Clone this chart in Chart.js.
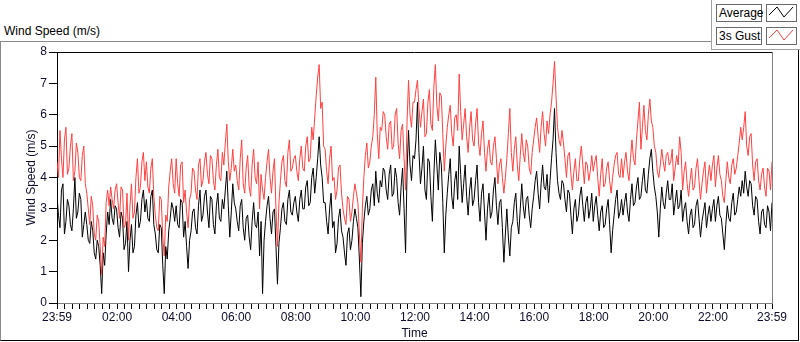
<!DOCTYPE html>
<html>
<head>
<meta charset="utf-8">
<title>Wind Speed (m/s)</title>
<script src="https://cdn.jsdelivr.net/npm/chart.js@4.4.1/dist/chart.umd.min.js"></script>
<style>
  html, body { margin: 0; padding: 0; background: #fff; }
  body { width: 800px; height: 342px; position: relative; overflow: hidden;
         font-family: "Liberation Sans", Arial, sans-serif; color: #000; }
  #title { position: absolute; left: 4px; top: 24px; font-size: 12px; white-space: nowrap; }
  #frame { position: absolute; left: 0; top: 41px; width: 797px; height: 298px;
           border-left: 1px solid #8a8a8a; border-top: 1px solid #8a8a8a;
           border-right: 1px solid #000; border-bottom: 1px solid #000; }
  #legendPanel { position: absolute; left: 711px; top: 0; width: 89px; height: 50px; background: #fff;
                 border-left: 1px solid #a0a0a0; border-bottom: 1px solid #a0a0a0; box-sizing: border-box; }
  .lgText { position: absolute; left: 716px; width: 46px; height: 18px; box-sizing: border-box;
            border: 1px solid #6a6a6a; font-size: 12px; line-height: 16px; padding-left: 2px; background: #fff; }
  .lgIcon { position: absolute; left: 766px; width: 31px; height: 18px; box-sizing: border-box;
            border: 1px solid #6a6a6a; background: #fff; }
  .lgIcon svg { display: block; }
  #wrap { position: absolute; left: 0; top: 41px; width: 800px; height: 300px; }
</style>
</head>
<body>
<div id="frame"></div>
<div id="title">Wind Speed (m/s)</div>
<div id="legendPanel"></div>
<div class="lgText" style="top:4px">Average</div>
<div class="lgIcon" style="top:4px"><svg width="29" height="16"><polyline points="2,10 10,2 17,12 26,2" fill="none" stroke="#000" stroke-width="1"/></svg></div>
<div class="lgText" style="top:27px">3s Gust</div>
<div class="lgIcon" style="top:27px"><svg width="29" height="16"><polyline points="2,10 10,2 17,12 26,2" fill="none" stroke="#ff4040" stroke-width="1"/></svg></div>
<div id="wrap"><canvas id="windChart" width="800" height="300"></canvas></div>
<script>
// samples every 3 minutes from 23:59 to 23:59, one row per hour
const SAMPLE_MIN = 3;

const avgSpeed = [
  3.4, 2.8, 2.4, 3.6, 3.8, 2.2, 2.6, 3.3, 3.1, 2.5, 2.3, 3.0, 4.0, 2.7, 2.9, 3.5, 3.3, 2.1, 2.5, 2.9,
  2.5, 2.0, 1.9, 2.6, 2.3, 1.6, 1.4, 2.0, 1.8, 1.2, 0.3, 1.6, 1.2, 2.2, 2.9, 2.5, 3.3, 2.7, 2.5, 3.1,
  3.0, 2.4, 2.1, 2.9, 2.7, 1.7, 1.9, 2.6, 1.0, 2.0, 2.5, 1.6, 1.8, 2.8, 3.2, 2.4, 2.6, 3.3, 3.6, 2.9,
  3.3, 2.7, 2.6, 3.4, 3.6, 2.5, 2.2, 1.7, 1.6, 2.5, 2.4, 1.2, 0.3, 1.8, 1.4, 2.3, 2.7, 3.2, 3.0, 2.6,
  3.1, 2.5, 2.4, 3.3, 3.2, 2.1, 2.6, 1.8, 1.1, 2.0, 2.3, 2.9, 3.0, 2.4, 2.2, 3.1, 3.6, 2.6, 2.8, 3.4,
  3.6, 2.9, 2.4, 3.4, 3.3, 2.5, 2.2, 3.1, 3.5, 2.7, 2.6, 3.3, 3.0, 3.6, 4.2, 3.1, 2.1, 2.9, 3.8, 3.2,
  3.0, 2.6, 2.3, 3.1, 3.3, 2.4, 2.0, 2.7, 2.8, 2.1, 1.7, 2.6, 3.2, 2.5, 2.4, 2.9, 1.5, 2.6, 0.3, 2.0,
  2.6, 3.1, 3.4, 2.7, 2.2, 2.9, 3.0, 1.8, 0.6, 1.9, 2.4, 3.0, 3.2, 2.6, 2.5, 3.3, 3.6, 2.9, 2.8, 3.2,
  3.4, 2.9, 2.6, 3.3, 3.6, 3.0, 3.0, 3.7, 3.9, 3.1, 3.2, 4.0, 4.3, 3.5, 4.0, 4.6, 5.3, 4.4, 4.0, 3.2,
  3.2, 2.6, 2.2, 3.0, 3.5, 2.4, 2.6, 1.6, 1.9, 2.7, 3.0, 2.3, 2.1, 1.6, 1.2, 2.2, 2.4, 1.7, 2.0, 2.6,
  3.0, 2.7, 2.4, 1.4, 0.2, 1.9, 2.6, 3.1, 3.4, 2.8, 3.0, 3.6, 3.8, 3.1, 4.2, 3.5, 3.2, 3.9, 3.7, 4.3,
  4.2, 3.6, 3.3, 4.1, 4.4, 3.4, 3.5, 4.3, 4.0, 3.2, 2.8, 3.7, 4.3, 3.0, 1.6, 4.2, 5.5, 4.4, 3.9, 4.7,
  4.6, 5.2, 6.4, 4.8, 3.8, 4.3, 5.0, 3.6, 3.3, 4.6, 4.5, 3.4, 2.6, 4.1, 5.2, 4.4, 3.6, 4.8, 4.4, 3.2,
  1.6, 2.8, 3.5, 4.1, 4.6, 3.4, 3.0, 3.9, 4.2, 3.3, 5.0, 4.1, 3.2, 3.8, 4.4, 3.4, 2.8, 3.6, 4.0, 3.1,
  3.3, 3.9, 4.4, 3.2, 2.6, 3.5, 3.8, 2.9, 2.0, 3.0, 3.5, 2.7, 2.9, 3.6, 4.0, 3.1, 2.5, 3.2, 3.3, 2.4,
  1.3, 2.2, 3.0, 2.1, 1.5, 2.4, 2.6, 3.2, 3.5, 2.6, 2.2, 3.0, 3.8, 3.1, 2.7, 3.3, 3.4, 2.8, 2.4, 3.0,
  3.4, 3.9, 4.2, 3.5, 3.0, 3.8, 4.4, 3.7, 3.6, 4.1, 3.2, 3.9, 4.6, 5.2, 6.2, 4.8, 3.9, 3.5, 3.3, 3.9,
  3.8, 3.3, 2.9, 3.6, 3.5, 2.8, 2.2, 3.0, 3.3, 2.6, 2.8, 3.4, 3.7, 3.1, 2.6, 3.2, 3.4, 2.7, 3.0, 3.5,
  2.6, 3.1, 3.4, 2.8, 2.3, 2.9, 3.1, 2.4, 2.5, 3.0, 3.3, 2.5, 1.6, 2.3, 2.8, 3.3, 3.6, 2.7, 2.9, 3.3,
  2.8, 3.2, 3.5, 2.9, 2.6, 3.3, 3.8, 3.1, 3.2, 3.7, 4.0, 3.3, 3.4, 3.9, 4.3, 3.6, 3.5, 4.1, 4.6, 4.9,
  4.2, 3.7, 3.4, 2.9, 2.1, 3.0, 3.7, 3.2, 3.0, 3.5, 3.9, 3.3, 3.3, 3.8, 2.8, 3.2, 3.6, 3.0, 3.1, 3.6,
  2.6, 3.0, 3.2, 2.6, 2.2, 2.8, 3.0, 2.4, 2.5, 3.1, 3.3, 2.7, 2.1, 2.6, 2.9, 3.2, 2.4, 2.8, 3.1, 2.6,
  3.0, 3.3, 2.6, 3.1, 3.4, 2.8, 2.7, 2.2, 1.7, 2.5, 3.1, 2.7, 2.6, 3.2, 3.5, 2.8, 2.9, 3.3, 3.7, 3.4,
  3.9, 3.5, 4.2, 3.7, 3.4, 3.9, 3.8, 3.1, 2.8, 3.4, 3.3, 2.6, 2.2, 2.9, 3.0, 2.5, 2.4, 3.1, 2.9, 2.3,
  3.2
];

const gustSpeed = [
  4.5, 4.0, 5.5, 4.6, 4.0, 5.2, 5.6, 4.1, 4.3, 5.0, 5.4, 3.9, 4.2, 5.1, 4.8, 4.0, 3.9, 4.7, 5.0, 3.8,
  3.5, 3.0, 2.5, 3.4, 3.1, 2.2, 2.0, 2.8, 2.6, 1.8, 0.9, 2.1, 1.8, 3.2, 3.6, 3.1, 3.7, 3.3, 3.0, 3.6,
  3.8, 3.2, 2.7, 3.7, 3.6, 2.4, 2.5, 3.5, 2.0, 3.1, 3.8, 2.7, 2.9, 4.0, 4.6, 3.5, 3.7, 4.5, 4.8, 3.9,
  4.5, 3.7, 3.5, 4.3, 4.6, 3.4, 2.8, 2.4, 2.3, 3.4, 3.3, 2.1, 1.5, 2.8, 2.6, 3.7, 4.2, 4.6, 3.8, 3.5,
  4.6, 3.8, 3.4, 4.4, 4.5, 3.2, 3.6, 2.9, 2.4, 3.3, 3.5, 4.3, 4.2, 3.6, 3.3, 4.4, 4.6, 3.7, 3.9, 4.5,
  4.8, 4.1, 3.8, 4.7, 4.6, 3.9, 3.6, 4.4, 4.9, 4.0, 3.9, 4.8, 4.4, 5.1, 5.7, 4.5, 3.9, 4.3, 4.9, 4.2,
  4.4, 3.9, 3.6, 4.6, 5.2, 3.8, 3.5, 4.3, 4.7, 3.7, 3.4, 4.4, 4.9, 4.0, 3.8, 4.5, 3.0, 4.1, 3.6, 3.3,
  4.0, 4.5, 4.9, 4.0, 3.5, 4.2, 4.6, 3.0, 1.8, 3.2, 3.9, 4.5, 4.7, 3.9, 3.7, 4.8, 5.2, 4.2, 4.3, 4.6,
  4.7, 4.2, 3.9, 4.6, 5.0, 4.3, 4.2, 5.0, 5.3, 4.5, 4.6, 5.6, 5.2, 5.9, 6.6, 7.2, 7.6, 6.2, 6.4, 5.0,
  4.9, 4.2, 3.8, 4.6, 5.0, 3.9, 4.0, 3.3, 3.6, 4.3, 4.4, 3.5, 3.0, 2.7, 2.5, 3.4, 3.3, 2.6, 2.9, 3.4,
  3.8, 3.5, 3.2, 2.2, 1.3, 3.0, 4.0, 4.7, 5.1, 4.3, 4.5, 5.0, 5.3, 6.0, 7.2, 5.4, 4.6, 5.6, 5.5, 6.1,
  6.0, 5.3, 4.9, 5.7, 5.8, 4.9, 5.0, 6.0, 6.2, 5.1, 4.6, 5.5, 5.7, 4.6, 3.6, 5.8, 7.1, 6.0, 5.6, 6.4,
  6.4, 6.8, 7.1, 6.2, 5.6, 6.1, 6.5, 5.3, 5.4, 6.4, 6.8, 5.7, 5.5, 6.9, 7.6, 6.3, 5.8, 6.7, 6.6, 5.4,
  4.2, 5.0, 5.6, 6.0, 6.3, 5.4, 5.0, 5.9, 6.0, 5.5, 7.3, 6.1, 5.2, 5.7, 6.2, 5.3, 4.8, 5.6, 6.1, 5.2,
  5.0, 5.7, 6.2, 5.1, 4.7, 5.4, 5.8, 4.8, 4.2, 4.9, 5.2, 4.5, 4.4, 5.0, 5.3, 4.6, 3.8, 4.4, 4.6, 4.0,
  3.5, 4.0, 4.6, 5.4, 6.2, 4.8, 4.2, 4.9, 5.3, 4.4, 3.9, 4.7, 5.4, 4.8, 4.5, 5.2, 5.0, 4.3, 4.1, 4.8,
  5.2, 5.6, 5.9, 5.3, 4.8, 5.6, 6.1, 5.4, 5.0, 5.8, 5.4, 6.0, 6.4, 7.0, 7.7, 6.6, 5.6, 5.2, 5.0, 5.5,
  5.1, 4.6, 4.0, 4.7, 4.8, 4.1, 3.6, 4.2, 4.6, 3.9, 3.9, 4.6, 5.0, 4.4, 3.8, 4.5, 4.4, 3.9, 4.2, 4.7,
  4.2, 4.5, 4.7, 4.0, 3.4, 4.1, 4.6, 3.7, 3.8, 4.3, 4.5, 3.9, 3.5, 4.0, 4.4, 4.7, 4.8, 4.1, 4.0, 4.6,
  4.0, 4.5, 4.8, 4.2, 3.9, 4.6, 5.2, 4.6, 4.4, 5.2, 5.8, 6.4, 4.9, 5.6, 6.3, 5.5, 5.2, 6.0, 6.5, 5.8,
  5.6, 5.0, 4.8, 4.2, 4.0, 4.4, 4.9, 4.5, 4.2, 4.7, 4.8, 4.4, 4.5, 4.9, 3.9, 4.3, 4.7, 4.4, 5.3, 4.8,
  3.6, 4.2, 4.5, 3.8, 3.4, 3.9, 4.3, 3.6, 3.7, 4.3, 4.6, 3.9, 3.3, 3.8, 4.2, 4.5, 3.5, 4.0, 4.4, 3.9,
  4.4, 4.7, 3.7, 4.3, 4.7, 4.1, 3.9, 3.4, 3.2, 3.9, 4.5, 4.0, 3.8, 4.4, 4.6, 4.1, 4.3, 4.7, 5.1, 5.6,
  5.2, 5.6, 6.1, 5.0, 4.7, 5.3, 5.4, 4.4, 3.9, 4.5, 4.6, 3.9, 3.6, 4.1, 4.3, 3.7, 3.4, 4.3, 4.2, 3.6,
  4.5
];

// x axis: minutes since 23:59
const majorTickMin = [0, 121, 241, 361, 481, 601, 721, 841, 961, 1081, 1201, 1321, 1440];
const majorTickLabels = ['23:59', '02:00', '04:00', '06:00', '08:00', '10:00', '12:00',
                         '14:00', '16:00', '18:00', '20:00', '22:00', '23:59'];
const MINOR_STEP = 15;

const toPoints = arr => arr.map((v, i) => ({ x: i * SAMPLE_MIN, y: v }));

const FONT = { family: '"Liberation Sans", Arial, sans-serif', size: 12 };
const LABEL_COLOR = '#0d0d2b';

// outline of the plot area (top and right edges)
const plotFrame = {
  id: 'plotFrame',
  afterDraw(chart) {
    const { ctx, chartArea: a } = chart;
    ctx.save();
    ctx.lineWidth = 1;
    ctx.strokeStyle = '#000';
    ctx.beginPath();
    ctx.moveTo(a.left, Math.round(a.top) + 0.5);
    ctx.lineTo(a.right, Math.round(a.top) + 0.5);
    ctx.stroke();
    ctx.strokeStyle = '#808080';
    ctx.beginPath();
    ctx.moveTo(Math.round(a.right) + 0.5, a.top);
    ctx.lineTo(Math.round(a.right) + 0.5, a.bottom);
    ctx.stroke();
    ctx.restore();
  }
};

function initChart() {
  const ctx = document.getElementById('windChart');
  new Chart(ctx, {
    type: 'line',
    data: {
      datasets: [
        { label: '3s Gust', data: toPoints(gustSpeed), borderColor: '#ff4040', borderWidth: 1,
          pointRadius: 0, tension: 0, order: 0 },
        { label: 'Average', data: toPoints(avgSpeed), borderColor: '#000000', borderWidth: 1,
          pointRadius: 0, tension: 0, order: 1 }
      ]
    },
    options: {
      responsive: false,
      animation: false,
      layout: { padding: { top: 11, right: 28, left: 0, bottom: 0 } },
      plugins: { legend: { display: false }, tooltip: { enabled: false } },
      scales: {
        x: {
          type: 'linear', min: 0, max: 1440,
          afterBuildTicks: scale => {
            const t = [0];
            for (let m = 1 + MINOR_STEP; m < 1440; m += MINOR_STEP) t.push(m);
            t.push(1440);
            scale.ticks = t.map(v => ({ value: v }));
          },
          afterFit: scale => { scale.height = 38; },
          ticks: {
            autoSkip: false, maxRotation: 0, padding: 1, color: LABEL_COLOR, font: FONT,
            callback: v => {
              const i = majorTickMin.indexOf(v);
              return i >= 0 ? majorTickLabels[i] : '';
            }
          },
          grid: { drawOnChartArea: false, tickLength: 6, color: '#000' },
          border: { color: '#808080' },
          title: { display: true, text: 'Time', color: LABEL_COLOR, font: FONT, padding: { top: 0, bottom: 0 } }
        },
        y: {
          min: 0, max: 8,
          afterFit: scale => { scale.width = 57; },
          ticks: { stepSize: 1, padding: 2, color: LABEL_COLOR, font: FONT },
          grid: { drawOnChartArea: false, tickLength: 8, color: '#000' },
          border: { color: '#000' },
          title: { display: true, text: 'Wind Speed (m/s)', color: LABEL_COLOR, font: FONT, padding: { top: 24, bottom: 0 } }
        }
      }
    },
    plugins: [plotFrame]
  });
}

initChart();
</script>
</body>
</html>
